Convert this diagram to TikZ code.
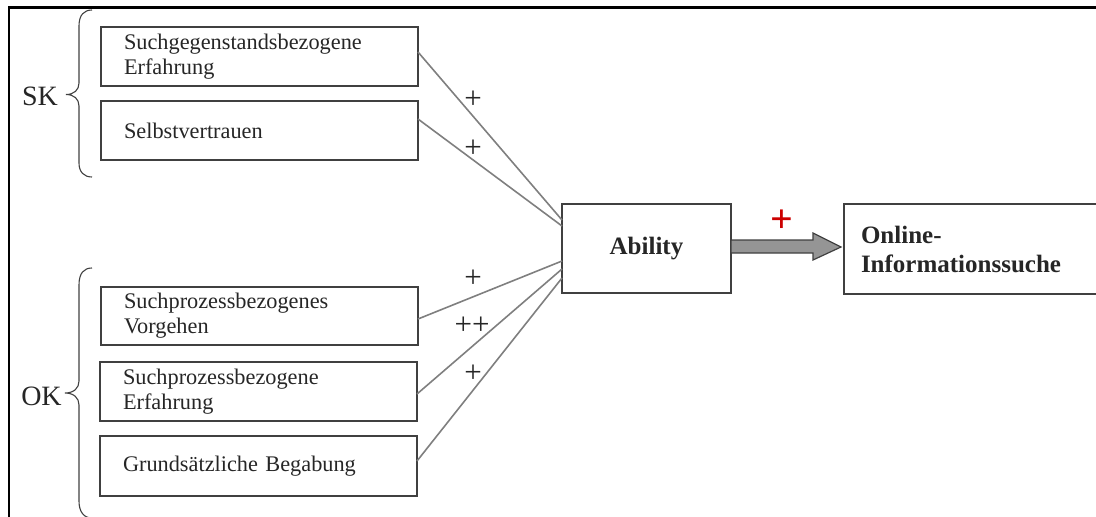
\documentclass[tikz,border=0pt]{standalone}
\usepackage{fontspec}
\setmainfont{Liberation Serif}
\usetikzlibrary{calc}
\definecolor{txt}{HTML}{262626}
\definecolor{bord}{HTML}{404040}
\definecolor{conn}{HTML}{7F7F7F}
\definecolor{arrfill}{HTML}{959595}
\definecolor{redplus}{HTML}{CC0000}
\tikzset{
  factorbox/.style={draw=bord, line width=1.4pt, rectangle, text=txt,
    text width=271pt, inner xsep=23pt, inner ysep=0pt, minimum height=59pt,
    align=left, outer sep=0pt, font=\fontsize{22.3}{25}\selectfont},
  centralbox/.style={draw=bord, line width=1.4pt, rectangle, text=txt,
    minimum width=169pt, minimum height=89pt, inner sep=0pt, outer sep=0pt,
    font=\fontsize{25}{29}\selectfont\bfseries},
  outbox/.style={draw=bord, line width=1.4pt, rectangle, text=txt,
    text width=266pt, inner xsep=17pt, inner ysep=0pt, minimum height=90pt,
    align=left, outer sep=0pt, font=\fontsize{25}{29}\selectfont\bfseries},
  connector/.style={draw=conn, line width=1.6pt},
  signlabel/.style={text=txt, inner sep=0pt, font=\fontsize{31}{33}\selectfont},
  grouplabel/.style={text=txt, inner sep=0pt, font=\fontsize{28}{30}\selectfont},
  bracepath/.style={draw=bord, line width=1.1pt},
  bigarrow/.style={draw=bord, fill=arrfill, line width=1.2pt, line join=miter}
}
\begin{document}
\begin{tikzpicture}[x=1pt, y=-1pt]
\useasboundingbox (0,0) rectangle (1096,517);
\begin{scope}
\clip (0,0) rectangle (1096,517);
% outer frame (top and left visible)
\draw[black, line width=2.4pt] (9,520) -- (9,7.5) -- (1100,7.5);

% factor boxes
\node[factorbox] (b1) at (259.5,56.5) {Suchgegenstandsbezogene\\Erfahrung};
\node[factorbox] (b2) at (259.5,130.5) {Selbstvertrauen};
\node[factorbox, minimum height=58pt] (b3) at (259.5,316) {Suchprozessbezogenes\\Vorgehen};
\node[factorbox] (b4) at (258.5,391.5) {Suchprozessbezogene\\Erfahrung};
\node[factorbox, minimum height=60pt] (b5) at (258.5,466) {Grundsätzliche Begabung};

% central and outcome boxes
\node[centralbox] (ab) at (646.5,248.5) {Ability};
\node[outbox, anchor=west] (on) at (844,249) {Online-\\Informationssuche};

% connectors
\draw[connector] ([yshift=4.5pt]b1.east) -- ([yshift=28.5pt]ab.west);
\draw[connector] ([yshift=11.5pt]b2.east) -- ([yshift=22.5pt]ab.west);
\draw[connector] ([yshift=-3pt]b3.east) -- ([yshift=-12.5pt]ab.west);
\draw[connector] ([yshift=-2.5pt]b4.east) -- ([yshift=-20.5pt]ab.west);
\draw[connector] ([yshift=5pt]b5.east) -- ([yshift=-29.5pt]ab.west);

% sign labels
\node[signlabel] (s1) at (473,99.5) {+};
\node[signlabel] (s2) at (473,148.5) {+};
\node[signlabel] (s3) at (473,279) {+};
\node[signlabel] (s4) at (472,326) {++};
\node[signlabel] (s5) at (473,374) {+};

% big arrow
\coordinate (a0) at ($(ab.east)+(0,-8.5)$);
\coordinate (tip) at ($(on.west)+(-3,-2)$);
\draw[bigarrow] (a0) -- ($(a0)+(82,0)$) -- ($(a0)+(82,-7)$) -- (tip)
  -- ($(a0)+(82,20)$) -- ($(a0)+(82,13)$) -- ($(a0)+(0,13)$) -- cycle;
\node[text=redplus, inner sep=0pt, font=\fontsize{40}{42}\selectfont\bfseries] (rp) at (781.5,221.5) {+};

% braces
\draw[bracepath] (92,10) .. controls (84,10) and (79,15) .. (79,26)
  -- (79,83) .. controls (79,90) and (74,94.5) .. (66,94.5)
  .. controls (74,94.5) and (79,99) .. (79,106)
  -- (79,163) .. controls (79,172) and (84,177) .. (92,177);
\draw[bracepath] (92,268) .. controls (84,268) and (79,273) .. (79,285)
  -- (79,381) .. controls (79,388) and (74,393) .. (65,393)
  .. controls (74,393) and (79,398) .. (79,405)
  -- (79,501) .. controls (79,512) and (84,518) .. (92,518);

% group labels
\node[grouplabel] (sk) at (40,96) {SK};
\node[grouplabel] (ok) at (41.5,396) {OK};
\end{scope}
\end{tikzpicture}
\end{document}
